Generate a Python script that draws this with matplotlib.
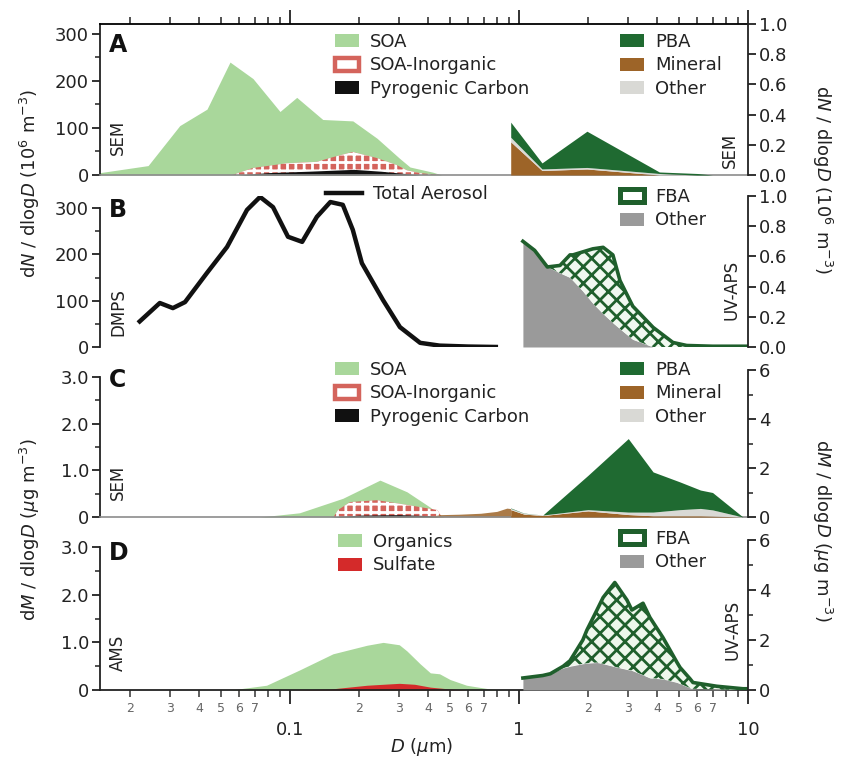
import numpy as np
import matplotlib
matplotlib.use('Agg')
import matplotlib.pyplot as plt
from matplotlib.patches import Patch
from matplotlib.lines import Line2D
from matplotlib.ticker import FixedLocator, FixedFormatter, FuncFormatter, NullFormatter, LogLocator

plt.rcParams['font.family'] = ['DejaVu Sans']
plt.rcParams['mathtext.fontset'] = 'dejavusans'
plt.rcParams['hatch.linewidth'] = 2.0

# ---------------- data ----------------
# Panel A (SEM number, left axis)
a_soa_d = [0.0148, 0.024, 0.033, 0.0434, 0.0547, 0.0689, 0.0904, 0.107, 0.139, 0.188, 0.24, 0.30, 0.334, 0.42, 0.46]
a_soa_v = [5, 20, 105, 140, 240, 205, 135, 165, 118, 115, 78, 36, 17, 6, 0]
a_inorg_d = [0.056, 0.069, 0.097, 0.131, 0.154, 0.188, 0.24, 0.293, 0.324, 0.37, 0.45]
a_inorg_v = [0, 15, 25, 28, 38, 49, 36, 21, 10, 4, 0]
a_pyro_d = [0.06, 0.08, 0.12, 0.19, 0.25, 0.32, 0.37]
a_pyro_v = [0, 5, 8, 12, 8, 3, 0]
# Panel A (SEM number, right axis, stacked)
a_r_d = [0.92, 1.26, 1.98, 4.1, 6.0, 7.0]
a_r_mineral = [0.22, 0.03, 0.04, 0.0, 0.0, 0.0]
a_r_other = [0.03, 0.01, 0.01, 0.01, 0.0, 0.0]
a_r_pba = [0.10, 0.04, 0.24, 0.01, 0.01, 0.0]

# Panel B (DMPS total aerosol, left axis)
b_tot_d = [0.0217, 0.027, 0.0308, 0.0348, 0.0434, 0.0531, 0.0649, 0.074, 0.0843, 0.098, 0.113,
           0.131, 0.15, 0.17, 0.188, 0.206, 0.255, 0.302, 0.37, 0.45, 0.6, 0.81]
b_tot_v = [52, 95, 84, 97, 160, 216, 296, 324, 302, 238, 227, 281, 313, 307, 253, 181, 101, 43, 9, 3, 1, 0]
# Panel B (UV-APS, right axis, stacked)
b_r_d = [1.04, 1.17, 1.33, 1.51, 1.67, 1.72, 1.90, 2.10, 2.33, 2.57, 2.76, 3.14, 3.85, 4.7, 5.4, 7.0, 10.0]
b_r_other = [0.70, 0.64, 0.53, 0.49, 0.46, 0.44, 0.37, 0.29, 0.22, 0.16, 0.12, 0.05, 0, 0, 0, 0, 0]
b_r_fba = [0, 0, 0, 0.05, 0.15, 0.17, 0.26, 0.36, 0.44, 0.45, 0.32, 0.22, 0.13, 0.03, 0.01, 0.005, 0.005]

# Panel C (SEM mass, left axis)
c_soa_d = [0.074, 0.11, 0.17, 0.247, 0.324, 0.409, 0.452, 0.47]
c_soa_v = [0.0, 0.09, 0.40, 0.79, 0.54, 0.21, 0.04, 0.0]
c_inorg_d = [0.155, 0.162, 0.183, 0.24, 0.324, 0.44, 0.46]
c_inorg_v = [0.0, 0.15, 0.32, 0.36, 0.26, 0.15, 0.0]
c_pyro_d = [0.15, 0.2, 0.3, 0.4, 0.45]
c_pyro_v = [0.0, 0.04, 0.05, 0.03, 0.0]
c_min_d = [0.40, 0.45, 0.55, 0.68, 0.80, 0.885, 0.92]
c_min_v = [0.0, 0.05, 0.06, 0.08, 0.12, 0.19, 0.18]
# Panel C (SEM mass, right axis, stacked)
c_r_d = [0.92, 1.05, 1.27, 2.0, 3.0, 3.85, 5.05, 6.2, 7.0, 9.5]
c_r_mineral = [0.30, 0.12, 0.06, 0.25, 0.10, 0.05, 0.05, 0.05, 0.04, 0.0]
c_r_other = [0.05, 0.03, 0.02, 0.05, 0.10, 0.15, 0.25, 0.30, 0.25, 0.0]
c_r_pba = [0.02, 0.01, 0.0, 1.40, 3.00, 1.64, 1.13, 0.75, 0.71, 0.0]

# Panel D (AMS, left axis)
d_org_d = [0.055, 0.079, 0.11, 0.154, 0.217, 0.255, 0.30, 0.324, 0.37, 0.41, 0.45, 0.5, 0.59, 0.75, 0.85]
d_org_v = [0.0, 0.10, 0.42, 0.76, 0.94, 1.0, 0.95, 0.82, 0.55, 0.36, 0.34, 0.22, 0.10, 0.02, 0.0]
d_sulf_d = [0.1, 0.15, 0.217, 0.3, 0.35, 0.41, 0.5, 0.6]
d_sulf_v = [0.0, 0.02, 0.10, 0.14, 0.12, 0.06, 0.02, 0.0]
# Panel D (UV-APS mass, right axis, stacked)
d_r_d = [1.04, 1.27, 1.37, 1.56, 1.67, 1.90, 1.98, 2.19, 2.33, 2.62, 2.96, 3.11, 3.48, 3.73,
         4.25, 4.9, 5.05, 5.58, 5.75, 7.3, 9.5, 10.0]
d_r_other = [0.48, 0.56, 0.65, 0.88, 0.95, 1.05, 1.07, 1.10, 1.05, 0.93, 0.82, 0.78, 0.60, 0.48,
             0.44, 0.30, 0.25, 0.08, 0.05, 0.02, 0.0, 0.0]
d_r_fba = [0.0, 0.02, 0.0, 0.07, 0.22, 0.95, 1.33, 2.10, 2.65, 3.37, 2.78, 2.42, 2.87, 2.42,
           1.66, 0.80, 0.65, 0.37, 0.25, 0.13, 0.05, 0.05]

# ---------------- styling ----------------
SOA = '#a9d79b'
INORG = '#d4645c'
PYRO = '#111111'
PBA = '#1f6a31'
MINERAL = '#9d6428'
OTHER_L = '#d9d9d5'
OTHER_G = '#9a9a9a'
FBA = '#1f5f2c'
SULF = '#d42a2a'
TXT = '#222222'

W, H = 846, 764
fig = plt.figure(figsize=(W / 100, H / 100), dpi=100)


def rect(top, bottom):
    return [100 / W, 1 - bottom / H, 648 / W, (bottom - top) / H]


def minor_fmt(x, pos):
    e = np.floor(np.log10(x) + 1e-9)
    d = int(round(x / 10 ** e))
    return str(d) if 2 <= d <= 7 else ''


def setup(ax, axr, ylim_l, ylim_r, lmaj, lmin, llab, rmaj, rmin, rlab, lbound, xmode, baseline):
    ax.set_xscale('log')
    ax.set_xlim(0.0148, 10)
    ax.set_ylim(*ylim_l)
    axr.set_ylim(*ylim_r)
    for s in ['top', 'bottom', 'right']:
        ax.spines[s].set_visible(False)
    for s in ['top', 'bottom', 'left']:
        axr.spines[s].set_visible(False)
    ax.spines['left'].set_bounds(0, lbound)
    axr.spines['right'].set_bounds(ylim_r[0], ylim_r[1])
    for sp in [ax.spines['left'], axr.spines['right']]:
        sp.set_linewidth(1.3)
        sp.set_color(TXT)
    ax.yaxis.set_major_locator(FixedLocator(lmaj))
    ax.yaxis.set_major_formatter(FixedFormatter(llab))
    ax.yaxis.set_minor_locator(FixedLocator(lmin))
    axr.yaxis.set_major_locator(FixedLocator(rmaj))
    axr.yaxis.set_major_formatter(FixedFormatter(rlab))
    axr.yaxis.set_minor_locator(FixedLocator(rmin))
    for a in (ax, axr):
        a.tick_params(axis='y', which='major', length=6, width=1.3, labelsize=13,
                      colors=TXT, pad=2)
        a.tick_params(axis='y', which='minor', length=3.5, width=1.1, colors=TXT)
    ax.xaxis.set_major_locator(FixedLocator([0.1, 1, 10]))
    ax.xaxis.set_minor_locator(LogLocator(base=10, subs=np.arange(2, 10), numticks=20))
    ax.xaxis.set_minor_formatter(NullFormatter())
    if xmode == 'top':
        ax.spines['top'].set_visible(True)
        ax.spines['top'].set_linewidth(1.3)
        ax.tick_params(axis='x', which='both', top=True, bottom=False, labeltop=False,
                       labelbottom=False, direction='out', color=TXT)
        ax.tick_params(axis='x', which='major', length=10, width=1.3)
        ax.tick_params(axis='x', which='minor', length=5, width=1.1)
    elif xmode == 'bottom':
        ax.spines['bottom'].set_visible(True)
        ax.spines['bottom'].set_linewidth(1.3)
        ax.spines['bottom'].set_color(TXT)
        ax.xaxis.set_major_formatter(FixedFormatter(['0.1', '1', '10']))
        ax.xaxis.set_minor_formatter(FuncFormatter(minor_fmt))
        ax.tick_params(axis='x', which='major', length=10, width=1.3, labelsize=13,
                       pad=12, color=TXT, labelcolor=TXT)
        ax.tick_params(axis='x', which='minor', length=5, width=1.1, labelsize=9,
                       pad=4, color='#333333', labelcolor='#666666')
    else:
        ax.tick_params(axis='x', which='both', bottom=False, top=False,
                       labelbottom=False, labeltop=False)
    if baseline:
        ax.spines['bottom'].set_visible(True)
        ax.spines['bottom'].set_color('#8c8c8c')
        ax.spines['bottom'].set_linewidth(1.2)
        if xmode != 'bottom':
            ax.tick_params(axis='x', which='both', bottom=False)


def hatch_lw(coll, lw):
    if hasattr(coll, 'set_hatch_linewidth'):
        coll.set_hatch_linewidth(lw)


def leg(ax, handles, labels, x, y, hl=1.35):
    # x, y: pixel position (upper-left) in figure pixels
    bb = ax.get_position()
    fx = (x / W - bb.x0) / bb.width
    fy = ((1 - y / H) - bb.y0) / bb.height
    lg = ax.legend(handles, labels, loc='upper left', bbox_to_anchor=(fx, fy), frameon=False,
                   fontsize=13, handlelength=hl, handleheight=0.75, handletextpad=0.6,
                   labelspacing=0.3, borderpad=0, borderaxespad=0)
    for t in lg.get_texts():
        t.set_color(TXT)
    return lg


def ftext(x, y, s, **kw):
    fig.text(x / W, 1 - y / H, s, **kw)


# ---------------- Panel A ----------------
axA = fig.add_axes(rect(24, 175))
axA2 = axA.twinx()
axA.fill_between(a_soa_d, a_soa_v, color=SOA, lw=0)
c = axA.fill_between(a_inorg_d, a_inorg_v, facecolor=INORG, edgecolor='white', hatch='++', lw=0)
hatch_lw(c, 2.0)
axA.fill_between(a_pyro_d, a_pyro_v, color=PYRO, lw=0)
m = np.array(a_r_mineral); o = np.array(a_r_other); p = np.array(a_r_pba)
axA2.fill_between(a_r_d, 0, m, color=MINERAL, lw=0)
axA2.fill_between(a_r_d, m, m + o, color=OTHER_L, lw=0)
axA2.fill_between(a_r_d, m + o, m + o + p, color=PBA, lw=0)
setup(axA, axA2, (0, 321), (0, 1.0), [0, 100, 200, 300], [50, 150, 250], ['0', '100', '200', '300'],
      [0, 0.2, 0.4, 0.6, 0.8, 1.0], [], ['0.0', '0.2', '0.4', '0.6', '0.8', '1.0'], 321, 'top', True)

# ---------------- Panel B ----------------
axB = fig.add_axes(rect(196, 347))
axB2 = axB.twinx()
axB.plot(b_tot_d, b_tot_v, color='#111111', lw=3.2, solid_joinstyle='round', solid_capstyle='butt')
o = np.array(b_r_other); f = np.array(b_r_fba)
axB2.fill_between(b_r_d, 0, o, color=OTHER_G, lw=0)
c = axB2.fill_between(b_r_d, o, o + f, facecolor='#f1f8f0', edgecolor=FBA, hatch='xx', lw=0)
hatch_lw(c, 2.0)
axB2.plot(b_r_d, o + f, color=FBA, lw=2.6, solid_joinstyle='round')
setup(axB, axB2, (0, 326), (0, 1.0), [0, 100, 200, 300], [50, 150, 250], ['0', '100', '200', '300'],
      [0, 0.2, 0.4, 0.6, 0.8, 1.0], [], ['0.0', '0.2', '0.4', '0.6', '0.8', '1.0'], 300, 'none', False)

# ---------------- Panel C ----------------
axC = fig.add_axes(rect(370, 517))
axC2 = axC.twinx()
axC.fill_between(c_soa_d, c_soa_v, color=SOA, lw=0)
c = axC.fill_between(c_inorg_d, c_inorg_v, facecolor=INORG, edgecolor='white', hatch='++', lw=0)
hatch_lw(c, 2.0)
axC.fill_between(c_pyro_d, c_pyro_v, color=PYRO, lw=0)
axC.fill_between(c_min_d, c_min_v, color=MINERAL, lw=0, alpha=0.85)
m = np.array(c_r_mineral); o = np.array(c_r_other); p = np.array(c_r_pba)
axC2.fill_between(c_r_d, 0, m, color=MINERAL, lw=0)
axC2.fill_between(c_r_d, m, m + o, color=OTHER_L, lw=0)
axC2.fill_between(c_r_d, m + o, m + o + p, color=PBA, lw=0)
setup(axC, axC2, (0, 3.15), (0, 6), [0, 1, 2, 3], [0.5, 1.5, 2.5], ['0', '1.0', '2.0', '3.0'],
      [0, 2, 4, 6], [1, 3, 5], ['0', '2', '4', '6'], 3.0, 'none', True)

# ---------------- Panel D ----------------
axD = fig.add_axes(rect(540, 690))
axD2 = axD.twinx()
axD.fill_between(d_org_d, d_org_v, color=SOA, lw=0)
axD.fill_between(d_sulf_d, d_sulf_v, color=SULF, lw=0)
o = np.array(d_r_other); f = np.array(d_r_fba)
axD2.fill_between(d_r_d, 0, o, color=OTHER_G, lw=0)
c = axD2.fill_between(d_r_d, o, o + f, facecolor='#eef7ec', edgecolor=FBA, hatch='xx', lw=0)
hatch_lw(c, 2.0)
axD2.plot(d_r_d, o + f, color=FBA, lw=2.6, solid_joinstyle='round')
setup(axD, axD2, (0, 3.15), (0, 6), [0, 1, 2, 3], [0.5, 1.5, 2.5], ['0', '1.0', '2.0', '3.0'],
      [0, 2, 4, 6], [1, 3, 5], ['0', '2', '4', '6'], 3.0, 'bottom', False)

# ---------------- legends ----------------
h_soa = Patch(facecolor=SOA, edgecolor='none')
h_inorg = Patch(facecolor='white', edgecolor=INORG, lw=3.2)
h_pyro = Patch(facecolor=PYRO, edgecolor='none')
h_pba = Patch(facecolor=PBA, edgecolor='none')
h_min = Patch(facecolor=MINERAL, edgecolor='none')
h_othl = Patch(facecolor=OTHER_L, edgecolor='none')
h_othg = Patch(facecolor=OTHER_G, edgecolor='none')
h_fba = Patch(facecolor='white', edgecolor=FBA, lw=3.6)
h_tot = Line2D([], [], color='#111111', lw=3.2)
h_org = Patch(facecolor=SOA, edgecolor='none')
h_sulf = Patch(facecolor=SULF, edgecolor='none')

lgA1 = leg(axA2, [h_soa, h_inorg, h_pyro], ['SOA', 'SOA-Inorganic', 'Pyrogenic Carbon'], 335, 33)
axA2.add_artist(lgA1)
leg(axA2, [h_pba, h_min, h_othl], ['PBA', 'Mineral', 'Other'], 620, 33)

lgB1 = leg(axB2, [h_tot], ['Total Aerosol'], 326, 185, hl=2.0)
axB2.add_artist(lgB1)
leg(axB2, [h_fba, h_othg], ['FBA', 'Other'], 620, 188)

lgC1 = leg(axC2, [h_soa, h_inorg, h_pyro], ['SOA', 'SOA-Inorganic', 'Pyrogenic Carbon'], 335, 361)
axC2.add_artist(lgC1)
leg(axC2, [h_pba, h_min, h_othl], ['PBA', 'Mineral', 'Other'], 620, 361)

lgD1 = leg(axD2, [h_org, h_sulf], ['Organics', 'Sulfate'], 338, 533)
axD2.add_artist(lgD1)
leg(axD2, [h_fba, h_othg], ['FBA', 'Other'], 620, 530)

# ---------------- annotations ----------------
for lab, y in [('A', 45), ('B', 210), ('C', 380), ('D', 553)]:
    ftext(109, y, lab, fontsize=17, fontweight='bold', ha='left', va='center', color='#111111')

for lab, x, y in [('SEM', 118, 137), ('DMPS', 118, 312), ('SEM', 118, 482), ('AMS', 118, 653),
                  ('SEM', 730, 150), ('UV-APS', 731, 290), ('UV-APS', 732, 630)]:
    ftext(x, y, lab, fontsize=12, rotation=90, ha='center', va='center', color=TXT)

ylab_N = r'd$\it{N}$ / dlog$\it{D}$ (10$^6$ m$^{-3}$)'
ylab_M = r'd$\it{M}$ / dlog$\it{D}$ ($\mu$g m$^{-3}$)'
ftext(30, 183, ylab_N, fontsize=13, rotation=90, ha='center', va='center', color=TXT)
ftext(30, 530, ylab_M, fontsize=13, rotation=90, ha='center', va='center', color=TXT)
ftext(822, 180, ylab_N, fontsize=13, rotation=270, ha='center', va='center', color=TXT)
ftext(822, 530, ylab_M, fontsize=13, rotation=270, ha='center', va='center', color=TXT)
ftext(422, 747, r'$\it{D}$ ($\mu$m)', fontsize=13, ha='center', va='center', color=TXT)

fig.savefig('out.png', dpi=100)
